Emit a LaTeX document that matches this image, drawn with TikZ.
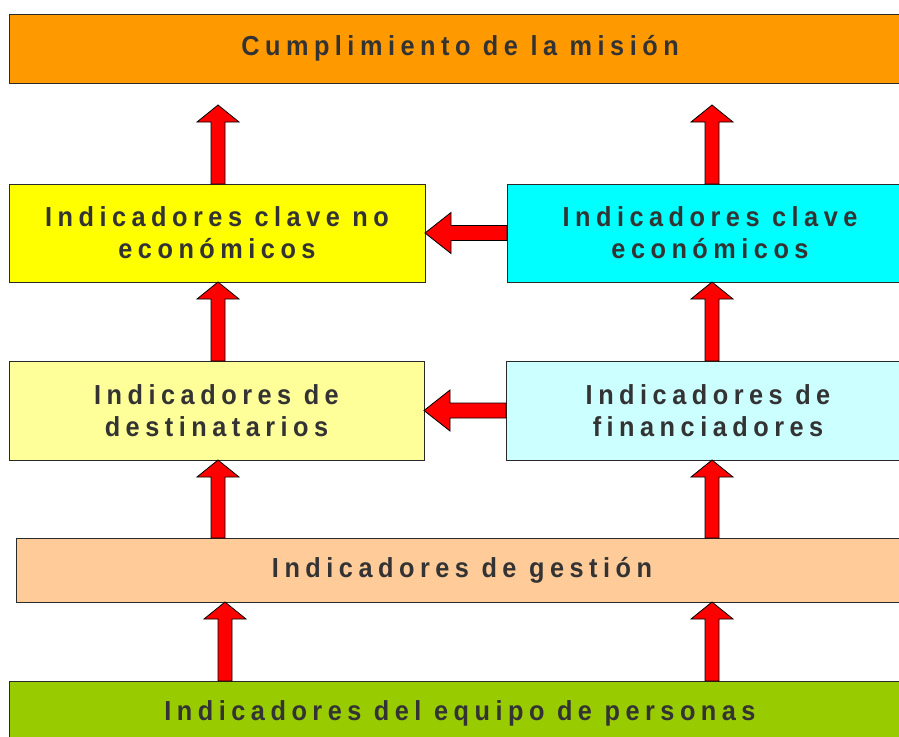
\documentclass[tikz,border=0pt]{standalone}
\usepackage{fontspec}
\setmainfont{Liberation Sans}[FakeStretch=0.92, LetterSpace=20]
\usetikzlibrary{calc}
\definecolor{cOrange}{HTML}{FF9900}
\definecolor{cYellow}{HTML}{FFFF00}
\definecolor{cCyan}{HTML}{00FFFF}
\definecolor{cLYellow}{HTML}{FFFF99}
\definecolor{cLCyan}{HTML}{CCFFFF}
\definecolor{cPeach}{HTML}{FFCC99}
\definecolor{cGreen}{HTML}{99CC00}
\definecolor{txt}{HTML}{333333}
\definecolor{boxline}{HTML}{2A2A2A}
\tikzset{
  box/.style={draw=boxline, line width=1pt, inner sep=0pt, outer sep=0pt,
    font=\fontsize{27.5}{32}\selectfont\bfseries, text=txt, align=center},
  blockarrow/.style={fill=red, draw=black, line width=0.8pt, line join=miter},
}
\newcommand\uparrowblock[2]{%
  \draw[blockarrow] #2 -- ($#2+(21,17)$) -- ($#2+(7,17)$) -- ($#1+(7,0)$)
    -- ($#1+(-7,0)$) -- ($#2+(-7,17)$) -- ($#2+(-21,17)$) -- cycle;}
\newcommand\leftarrowblock[2]{%
  \draw[blockarrow] #2 -- ($#2+(26,-20.5)$) -- ($#2+(26,-7.5)$) -- ($#1+(0,-7.5)$)
    -- ($#1+(0,7.5)$) -- ($#2+(26,7.5)$) -- ($#2+(26,20.5)$) -- cycle;}
\begin{document}
\begin{tikzpicture}[x=1pt,y=-1pt]
\useasboundingbox (0,0) rectangle (899,736);
\clip (0,0) rectangle (899,736);
\fill[white] (0,0) rectangle (899,736);

\node[box, fill=cOrange, minimum width=902pt, minimum height=69pt] (mision) at (460,48.5) {Cumplimiento de la misión};
\node[box, fill=cYellow, minimum width=416pt, minimum height=98pt] (keco) at (217,233) {Indicadores clave no\\económicos};
\node[box, fill=cCyan, minimum width=406pt, minimum height=98pt] (kecon) at (710,233) {Indicadores clave\\económicos};
\node[box, fill=cLYellow, minimum width=415pt, minimum height=99pt] (dest) at (216.5,410.5) {Indicadores de\\destinatarios};
\node[box, fill=cLCyan, minimum width=404pt, minimum height=99pt] (fin) at (708,410.5) {Indicadores de\\financiadores};
\node[box, fill=cPeach, minimum width=892pt, minimum height=64pt] (gest) at (462,570) {Indicadores de gestión};
\node[box, fill=cGreen, minimum width=902pt, minimum height=64pt] (equipo) at (460,713) {Indicadores del equipo de personas};

\coordinate (xL) at (218,0);
\coordinate (xLb) at (225,0);
\coordinate (xR) at (712,0);
\coordinate (topL) at ($(mision.south -| xL)+(0,22)$);
\coordinate (topR) at ($(mision.south -| xR)+(0,22)$);

\uparrowblock{(keco.north -| xL)}{(topL)}
\uparrowblock{(kecon.north -| xR)}{(topR)}
\uparrowblock{(dest.north -| xL)}{(keco.south -| xL)}
\uparrowblock{(fin.north -| xR)}{(kecon.south -| xR)}
\uparrowblock{(gest.north -| xL)}{(dest.south -| xL)}
\uparrowblock{(gest.north -| xR)}{(fin.south -| xR)}
\uparrowblock{(equipo.north -| xLb)}{(gest.south -| xLb)}
\uparrowblock{(equipo.north -| xR)}{(gest.south -| xR)}

\leftarrowblock{(kecon.west)}{(keco.east)}
\leftarrowblock{(fin.west)}{(dest.east)}
\end{tikzpicture}
\end{document}
